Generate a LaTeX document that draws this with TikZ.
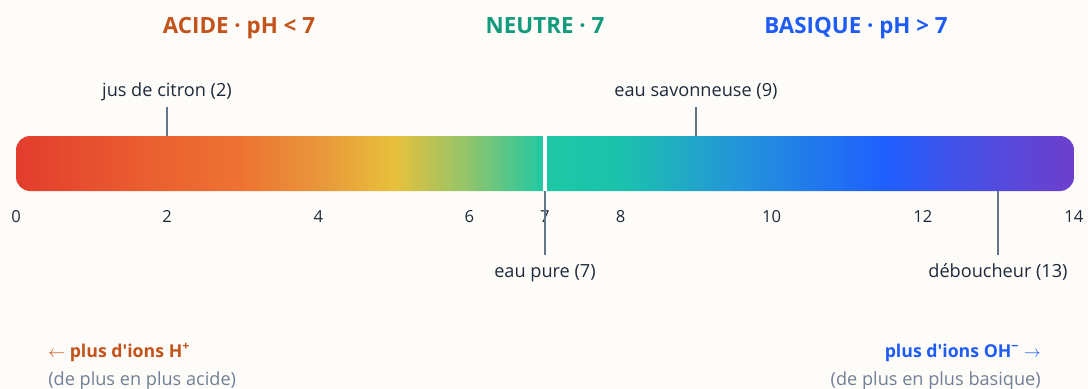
\documentclass[tikz,border=0pt]{standalone}
\usepackage{fontspec}
\setmainfont{Open Sans}
\usetikzlibrary{positioning}

\definecolor{bgcream}{HTML}{FDFCF8}
\definecolor{acidtxt}{HTML}{C4521B}
\definecolor{neutxt}{HTML}{129A7C}
\definecolor{basetxt}{HTML}{1F5CF5}
\definecolor{ink}{HTML}{1E2A3B}
\definecolor{leadgray}{HTML}{64748B}
\definecolor{subgray}{HTML}{718096}
% colour stops of the bar
\definecolor{phA}{HTML}{E23D2E}
\definecolor{phB}{HTML}{E95A2F}
\definecolor{phC}{HTML}{EE7433}
\definecolor{phD}{HTML}{E8963A}
\definecolor{phE}{HTML}{E8C13B}
\definecolor{phF}{HTML}{8EC56C}
\definecolor{phG}{HTML}{1DC8A5}
\definecolor{phH}{HTML}{1CC2AC}
\definecolor{phI}{HTML}{2396D8}
\definecolor{phJ}{HTML}{1F5FFF}
\definecolor{phK}{HTML}{4550E6}
\definecolor{phL}{HTML}{6E3FCC}

\begin{document}
\begin{tikzpicture}[
        x=0.025cm, y=-0.025cm,
        title/.style={font=\fontsize{15.9}{18}\selectfont\bfseries, anchor=base},
        lbl/.style={font=\fontsize{12.9}{15}\selectfont, text=ink, anchor=base, inner sep=0pt},
        tick/.style={font=\fontsize{11.8}{14}\selectfont, text=ink, anchor=base, inner sep=0pt},
        lead/.style={draw=leadgray, line width=0.9pt},
        sub/.style={font=\fontsize{12.9}{15}\selectfont, text=subgray, inner sep=0pt},
        ions/.style={font=\fontsize{12.6}{15}\selectfont\bfseries, inner sep=0pt}
    ]
    \fill[bgcream] (0,0) rectangle (1088,389);
    \useasboundingbox (0,0) rectangle (1088,389);

    % titles
    \node[title, text=acidtxt] (acide) at (239,33) {ACIDE · pH < 7};
    \node[title, text=neutxt] (neutre) at (545,33) {NEUTRE · 7};
    \node[title, text=basetxt] (basique) at (856,33) {BASIQUE · pH > 7};

    % the bar
    \begin{scope}
        \clip[rounded corners=10] (16,136) rectangle (1074,191);
        \foreach \a/\b/\ca/\cb in {0/1.5/phA/phB, 1.5/3/phB/phC, 3/4/phC/phD, 4/5/phD/phE,
                5/6/phE/phF, 6/7/phF/phG, 7/8/phG/phH, 8/9.5/phH/phI, 9.5/11.5/phI/phJ,
                11.5/12.5/phJ/phK, 12.5/14/phK/phL}
            \shade[left color=\ca, right color=\cb] ({16+75.57*\a},136) rectangle ({16.6+75.57*\b},191);
    \end{scope}
    \coordinate (neutA) at (545,136);
    \coordinate (neutB) at (545,191);
    \draw[white, line width=2.4pt] (neutA) -- (neutB);

    % scale
    \foreach \v in {0,2,4,6,7,8,10,12,14}
        \node[tick] (t\v) at ({16+75.57*\v},222) {\v};

    % examples above
    \node[lbl] (citron) at (167,96) {jus de citron (2)};
    \coordinate (citronA) at (167,107);
    \coordinate (citronB) at (167,136);
    \draw[lead] (citronA) -- (citronB);
    \node[lbl] (savon) at (696,96) {eau savonneuse (9)};
    \coordinate (savonA) at (696,107);
    \coordinate (savonB) at (696,136);
    \draw[lead] (savonA) -- (savonB);

    % examples below
    \coordinate (pureB) at (545,255);
    \draw[lead] (neutB) -- (pureB);
    \node[lbl] (pure) at (545,277) {eau pure (7)};
    \coordinate (deboA) at (998,191);
    \coordinate (deboB) at (998,255);
    \draw[lead] (deboA) -- (deboB);
    \node[lbl] (debo) at (998,277) {déboucheur (13)};

    % bottom notes
    \node[ions, text=acidtxt, anchor=base west] (hplus) at (48,357) {$\leftarrow$ plus d\textquotesingle ions H\textsuperscript{+}};
    \node[sub, anchor=base west] (hsub) at (48,385) {(de plus en plus acide)};
    \node[ions, text=basetxt, anchor=base east] (ohmoins) at (1041,357) {plus d\textquotesingle ions OH\textsuperscript{\textminus} $\rightarrow$};
    \node[sub, anchor=base east] (ohsub) at (1041,385) {(de plus en plus basique)};
\end{tikzpicture}
\end{document}
